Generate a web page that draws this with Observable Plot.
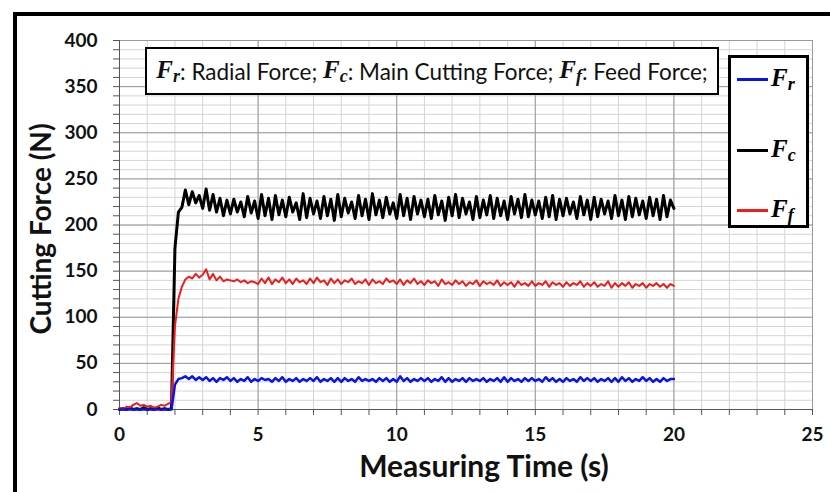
<!DOCTYPE html>
<html>
<head>
<meta charset="utf-8">
<script src="https://cdn.jsdelivr.net/npm/d3@7"></script>
<script src="https://cdn.jsdelivr.net/npm/@observablehq/plot@0.6"></script>
<style>
  html, body { margin: 0; padding: 0; background: white; overflow: hidden; }
  #wrap { position: relative; width: 830px; height: 492px; overflow: hidden; background: white; }
  #frame { position: absolute; left: 13px; top: 12px; width: 900px; height: 700px; border: 4px solid black; box-sizing: border-box; pointer-events: none; }
  #note { position: absolute; left: 145px; top: 47px; width: 574px; height: 48px; border: 2px solid black; box-sizing: border-box; background: white;
          font-family: Lato, sans-serif; font-size: 22.5px; display: flex; align-items: center; justify-content: center; white-space: nowrap; color: #111; }
  .F { font-family: "Liberation Serif", serif; font-weight: bold; font-style: italic; font-size: 25px; }
  .F sub { font-size: 18px; vertical-align: -4px; }
  #legend { position: absolute; left: 728px; top: 55px; width: 81px; height: 173px; border: 3px solid black; box-sizing: border-box; background: white; }
  .item { position: absolute; left: 6px; height: 24px; display: flex; align-items: center; }
  .item .sw { width: 31px; height: 3px; margin-right: 3px; }
</style>
</head>
<body>
<div id="wrap">
  <div id="chart"></div>
  <div id="frame"></div>
  <div id="note"><span class="F">F<sub>r</sub></span>: Radial Force;&nbsp;<span class="F">F<sub>c</sub></span>: Main Cutting Force;&nbsp;<span class="F">F<sub>f</sub></span>: Feed Force;</div>
  <div id="legend"></div>
</div>
<script>
// sampling step of the traces (seconds)
const step = 0.125;
const seriesNames = ["Fc", "Ff", "Fr"];
const seriesColors = ["#000000", "#ee1c1c", "#0a14e8"];
const legendLabels = ["r", "c", "f"];
const xTicks = [0, 5, 10, 15, 20, 25];
const yTicks = [0, 50, 100, 150, 200, 250, 300, 350, 400];

// Main cutting force Fc (N), one value every 0.125 s from 0 to 20 s
const Fc = [
  0,1,0,2,0,1,0,2,
  0,1,0,2,0,1,0,1,
  175,214,219,238,222,236,224,232,
  218,239,216,233,214,229,210,227,
  212,228,214,225,209,231,213,226,
  207,233,210,229,206,232,211,227,
  209,230,214,224,206,234,208,229,
  212,226,207,231,210,228,205,233,
  209,229,213,225,207,232,210,228,
  206,234,211,227,208,230,212,224,
  207,233,210,229,206,231,212,227,
  209,228,207,232,211,226,205,230,
  210,233,208,229,212,225,206,231,
  208,227,211,232,207,229,210,226,
  206,231,212,228,208,233,209,227,
  211,226,207,230,209,232,206,228,
  210,229,212,225,207,231,211,227,
  206,230,209,228,212,226,207,232,
  210,227,206,231,209,229,211,226,
  207,230,210,228,206,232,209,227,
  218
];
// Feed force Ff (N)
const Ff = [
  2,0,3,2,5,7,4,5,
  3,4,2,3,5,4,6,8,
  90,120,133,141,144,142,147,143,
  146,152,141,147,140,144,139,141,
  140,139,141,138,140,137,139,138,
  136,142,137,143,136,141,138,143,
  137,141,136,142,138,140,136,142,
  137,143,138,140,135,142,137,141,
  136,140,138,142,136,139,137,141,
  135,141,137,139,136,142,138,140,
  136,141,135,140,137,142,136,139,
  135,140,137,139,134,141,136,138,
  135,140,136,139,134,138,136,140,
  134,139,136,138,135,140,134,138,
  135,138,133,139,135,137,134,139,
  134,137,135,139,133,138,135,137,
  133,138,134,137,135,139,133,137,
  134,138,133,136,134,139,132,137,
  133,137,134,138,132,136,134,137,
  132,136,134,137,133,136,132,136,
  134
];
// Radial force Fr (N)
const Fr = [
  0,0,0,0,0,0,0,0,
  0,0,0,0,0,0,0,0,
  27,33,34,36,33,36,32,35,
  32,35,31,34,30,34,32,35,
  31,34,30,33,31,35,30,33,
  31,34,32,33,30,34,31,35,
  30,33,31,34,30,33,31,34,
  31,35,30,33,31,34,30,34,
  30,34,31,33,30,35,31,33,
  31,33,30,34,31,34,30,33,
  30,36,31,34,30,33,31,34,
  31,34,30,33,31,35,30,34,
  30,33,31,34,30,34,31,33,
  31,34,30,33,31,34,30,35,
  30,34,31,33,30,34,31,34,
  31,33,30,35,31,34,30,33,
  30,34,31,33,30,35,31,34,
  31,34,30,33,31,34,30,34,
  30,35,31,34,30,33,31,35,
  31,34,30,33,30,34,31,33,
  33
];

const all = [Fc, Ff, Fr];
const data = [];
all.forEach((arr, k) => arr.forEach((v, i) => data.push({t: i * step, v, s: seriesNames[k]})));

const minorX = d3.range(0, 26, 1);
const minorY = d3.range(0, 401, 10);

const chart = Plot.plot({
  width: 830,
  height: 492,
  marginLeft: 119,
  marginRight: 18,
  marginTop: 40,
  marginBottom: 83,
  style: {fontFamily: "Lato, sans-serif", background: "white", color: "#111"},
  x: {domain: [0, 25]},
  y: {domain: [0, 400]},
  color: {domain: seriesNames, range: seriesColors},
  marks: [
    Plot.gridX(minorX, {stroke: "#d4d4d4", strokeOpacity: 1, strokeWidth: 1}),
    Plot.gridY(minorY, {stroke: "#d4d4d4", strokeOpacity: 1, strokeWidth: 1}),
    Plot.gridX(xTicks, {stroke: "#9a9a9a", strokeOpacity: 1, strokeWidth: 1}),
    Plot.gridY(yTicks, {stroke: "#9a9a9a", strokeOpacity: 1, strokeWidth: 1}),
    Plot.axisX(minorX, {tickSize: 6, tickFormat: () => "", label: null, stroke: "#555"}),
    Plot.axisY(minorY, {tickSize: 6, tickFormat: () => "", label: null, stroke: "#555"}),
    Plot.axisX(xTicks, {tickSize: 0, tickPadding: 18, fontSize: 19, fontWeight: "bold", label: null}),
    Plot.axisY(yTicks, {tickSize: 0, tickPadding: 22, fontSize: 19, fontWeight: "bold", label: null}),
    Plot.ruleY([0], {stroke: "#555"}),
    Plot.ruleX([0], {stroke: "#555"}),
    Plot.line(data.filter(d => d.s === "Fc"), {x: "t", y: "v", stroke: "s", strokeWidth: 3, curve: "linear"}),
    Plot.line(data.filter(d => d.s === "Ff"), {x: "t", y: "v", stroke: "s", strokeWidth: 2, curve: "linear"}),
    Plot.line(data.filter(d => d.s === "Fr"), {x: "t", y: "v", stroke: "s", strokeWidth: 2.5, curve: "linear"}),
    Plot.text(["Measuring Time (s)"], {frameAnchor: "bottom", text: d => d, dy: 58, dx: 18, fontSize: 30, fontWeight: "bold", lineAnchor: "middle", textAnchor: "middle"}),
    Plot.text(["Cutting Force (N)"], {frameAnchor: "left", text: d => d, rotate: -90, dx: -77, dy: 4, fontSize: 28, fontWeight: "bold", textAnchor: "middle", lineAnchor: "middle"})
  ]
});
document.getElementById("chart").appendChild(chart);

// legend built from the same series arrays
const legend = d3.select("#legend");
const order = [2, 0, 1];
const tops = [9, 80, 140];
order.forEach((k, j) => {
  const it = legend.append("div").attr("class", "item").style("top", tops[j] + "px");
  it.append("div").attr("class", "sw").style("background", seriesColors[k]);
  it.append("span").attr("class", "F").html("F<sub>" + legendLabels[j] + "</sub>");
});
</script>
</body>
</html>
